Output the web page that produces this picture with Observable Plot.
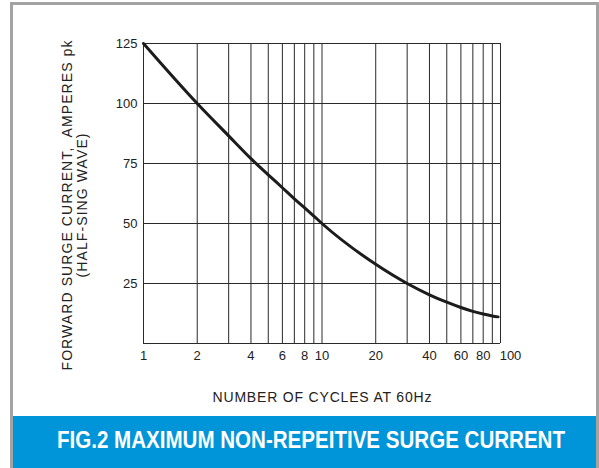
<!DOCTYPE html>
<html><head><meta charset="utf-8">
<script src="https://cdn.jsdelivr.net/npm/d3@7"></script>
<script src="https://cdn.jsdelivr.net/npm/@observablehq/plot@0.6"></script>
<style>
html,body{margin:0;padding:0;background:#fff;width:599px;height:468px;overflow:hidden;font-family:"Liberation Sans",Arial,sans-serif}
#frame{position:absolute;left:10px;top:2px;width:583px;height:470px;border:3px solid #a3a3a3;border-bottom:none;box-sizing:content-box}
#chart{position:absolute;left:0;top:0}
#banner{position:absolute;left:13px;top:416px;width:583px;height:52px;background:#0094d8}
#title{position:absolute;left:44px;top:13px;color:#fff;font-weight:bold;font-size:23px;line-height:1;white-space:nowrap;transform-origin:0 0;font-family:"Liberation Sans",Arial,sans-serif}
</style>
</head><body>
<div id="frame"></div>
<div id="chart"></div>
<div id="banner"><span id="title">FIG.2 MAXIMUM NON-REPEITIVE SURGE CURRENT</span></div>
<script>
const cycles  = [1, 2, 3, 4, 5, 6, 7, 8, 9, 10, 20, 30, 40, 50, 60, 70, 80, 90, 97];
const current = [125, 100, 86.5, 77, 70.3, 64.9, 60.3, 56.5, 53.1, 50, 33, 25, 20.3, 17.2, 15.0, 13.4, 12.3, 11.5, 11.1];
const xGrid = [1, 2, 3, 4, 5, 6, 7, 8, 9, 10, 20, 30, 40, 50, 60, 70, 80, 90, 100];
const yGrid = [0, 25, 50, 75, 100, 125];
const xTickLabels = [1, 2, 4, 6, 8, 10, 20, 40, 60, 80];
const xLastLabel = [100];
const yTickLabels = [25, 50, 75, 100, 125];
const yTitle1 = "FORWARD SURGE CURRENT,  AMPERES pk";
const yTitle2 = "(HALF-SING WAVE)";
const xTitle = "NUMBER OF CYCLES AT 60Hz";

const data = cycles.map((c, i) => ({c, v: current[i]}));

const chart = Plot.plot({
  width: 599, height: 416,
  marginLeft: 143, marginRight: 99, marginTop: 43, marginBottom: 73,
  x: {type: "log", domain: [1, 100], axis: null},
  y: {domain: [0, 125], axis: null},
  style: {fontFamily: "'Liberation Sans', Arial, sans-serif", fontSize: "13px", color: "#222", background: "transparent"},
  marks: [
    Plot.ruleX(xGrid, {stroke: "#2a2a2a", strokeWidth: 1}),
    Plot.ruleY(yGrid, {stroke: "#2a2a2a", strokeWidth: 1}),
    Plot.line(data, {x: "c", y: "v", curve: "monotone-x", stroke: "#1c1c1c", strokeWidth: 3}),
    Plot.text(xTickLabels, {x: d => d, text: d => String(d), frameAnchor: "bottom", lineAnchor: "middle", dy: 12.5, fontSize: 13, fill: "#222"}),
    Plot.text(xLastLabel, {x: d => d, text: d => String(d), frameAnchor: "bottom", lineAnchor: "middle", dy: 12.5, dx: 10, fontSize: 13, fill: "#222"}),
    Plot.text(yTickLabels, {y: d => d, text: d => String(d), frameAnchor: "left", textAnchor: "end", dx: -6, fontSize: 13, fill: "#222"}),
    Plot.text([yTitle1], {text: d => d, frameAnchor: "left", textAnchor: "middle", lineAnchor: "middle", dx: -76, dy: 12, rotate: -90, fontSize: 14, fill: "#222", className: "ttl1"}),
    Plot.text([yTitle2], {text: d => d, frameAnchor: "left", textAnchor: "middle", lineAnchor: "middle", dx: -61, dy: 12, rotate: -90, fontSize: 14, fill: "#222", className: "ttl2"}),
    Plot.text([xTitle], {text: d => d, frameAnchor: "bottom", lineAnchor: "middle", dy: 54, fontSize: 14, fill: "#222", className: "ttl3"})
  ]
});
document.getElementById("chart").appendChild(chart);

// stretch the titles to the letter spacing of the reference
[["ttl1", 330], ["ttl2", 144], ["ttl3", 219]].forEach(([cls, len]) => {
  d3.select(chart).selectAll(`.${cls} text`).attr("textLength", len).attr("lengthAdjust", "spacing");
});

const t = document.getElementById("title");
const w = t.getBoundingClientRect().width;
t.style.transform = `scaleX(${508 / w})`;
</script>
</body></html>
